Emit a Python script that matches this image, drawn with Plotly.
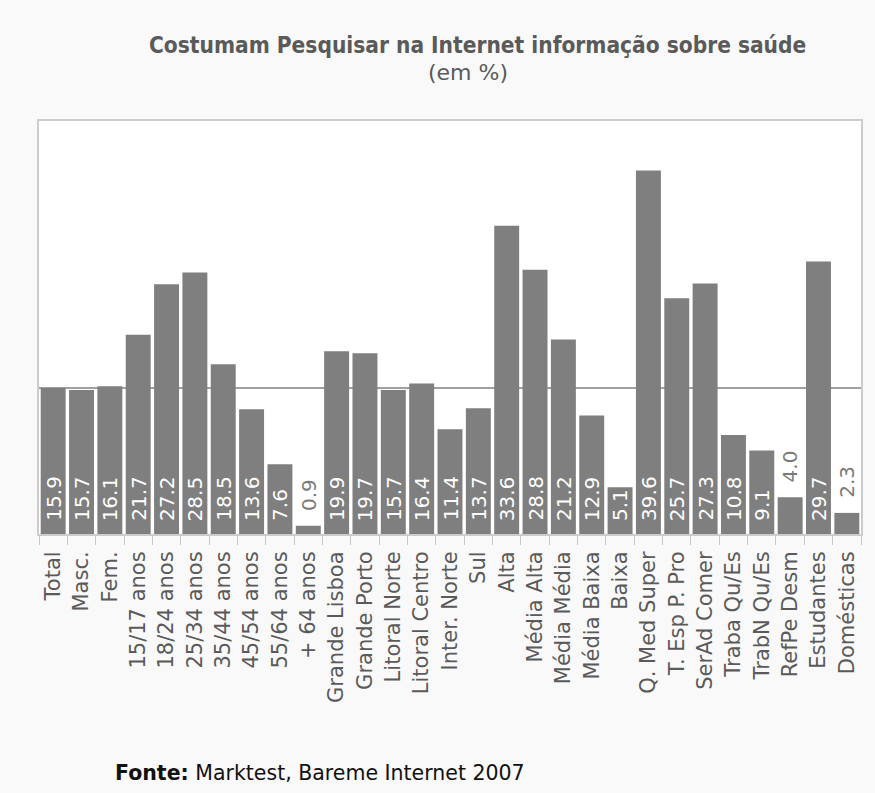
import plotly.graph_objects as go

categories = [
    "Total", "Masc.", "Fem.", "15/17 anos", "18/24 anos", "25/34 anos",
    "35/44 anos", "45/54 anos", "55/64 anos", "+ 64 anos", "Grande Lisboa",
    "Grande Porto", "Litoral Norte", "Litoral Centro", "Inter. Norte", "Sul",
    "Alta", "Média Alta", "Média Média", "Média Baixa", "Baixa",
    "Q. Med Super", "T. Esp P. Pro", "SerAd Comer", "Traba Qu/Es",
    "TrabN Qu/Es", "RefPe Desm", "Estudantes", "Domésticas",
]
values = [
    15.9, 15.7, 16.1, 21.7, 27.2, 28.5, 18.5, 13.6, 7.6, 0.9, 19.9,
    19.7, 15.7, 16.4, 11.4, 13.7, 33.6, 28.8, 21.2, 12.9, 5.1,
    39.6, 25.7, 27.3, 10.8, 9.1, 4.0, 29.7, 2.3,
]
title_text = "Costumam Pesquisar na Internet informação sobre saúde"
subtitle_text = "(em %)"
source_text = "<b>Fonte:</b> Marktest, Bareme Internet 2007"

FONT = "DejaVu Sans"
TITLE_FONT = "DejaVu Sans Condensed, DejaVu Sans"
BAR = "#7f7f7f"
LABEL_SIZE = 20

fig = go.Figure(
    go.Bar(
        x=categories,
        y=values,
        marker=dict(color=BAR, line=dict(width=0)),
        hoverinfo="x+y",
    )
)

# value labels: written upward from the bar base, or above the bar when it is short
for cat, v in zip(categories, values):
    inside = v >= 5
    fig.add_annotation(
        x=cat, y=0 if inside else v, xref="x", yref="y",
        text=f"{v:.1f}", textangle=-90, showarrow=False,
        xanchor="center", yanchor="bottom",
        yshift=11 if inside else 13,
        font=dict(family=FONT, size=LABEL_SIZE,
                  color="white" if inside else "#7a7a7a"),
    )

# reference line at the overall total
fig.add_shape(
    type="line", xref="paper", yref="y",
    x0=0, x1=1, y0=values[0], y1=values[0],
    line=dict(color="#808080", width=1.5), layer="below",
)

fig.add_annotation(
    text=f"<b>{title_text}</b>", xref="paper", yref="paper",
    x=0.533, y=1.0, yshift=76, xanchor="center", yanchor="middle",
    showarrow=False, font=dict(family=TITLE_FONT, size=22.5, color="#5a5a5a"),
)
fig.add_annotation(
    text=subtitle_text, xref="paper", yref="paper",
    x=0.522, y=1.0, yshift=49, xanchor="center", yanchor="middle",
    showarrow=False, font=dict(family=FONT, size=22, color="#5a5a5a"),
)
fig.add_annotation(
    text=source_text, xref="paper", yref="paper",
    x=(113 - 39) / 824, y=0.0, yshift=-239, xanchor="left", yanchor="middle",
    showarrow=False, font=dict(family=FONT, size=20.5, color="#111111"),
)

fig.update_layout(
    width=875, height=793,
    margin=dict(l=39, r=12, t=121, b=259),
    paper_bgcolor="#f9f9f9",
    plot_bgcolor="white",
    bargap=0.12,
    showlegend=False,
    font=dict(family=FONT, size=21, color="#555555"),
)
fig.update_xaxes(
    type="category",
    tickangle=-90,
    tickson="boundaries",
    ticks="outside", ticklen=9, tickcolor="#c8c8c8", tickwidth=1,
    ticklabelstandoff=7,
    showline=True, mirror=True, linecolor="#cccccc", linewidth=2,
    showgrid=False,
    tickfont=dict(family=FONT, size=21, color="#5a5a5a"),
)
fig.update_yaxes(
    range=[0, 45],
    showticklabels=False, ticks="", showgrid=False, zeroline=False,
    showline=True, mirror=True, linecolor="#cccccc", linewidth=2,
)

fig.write_html("out.html")
